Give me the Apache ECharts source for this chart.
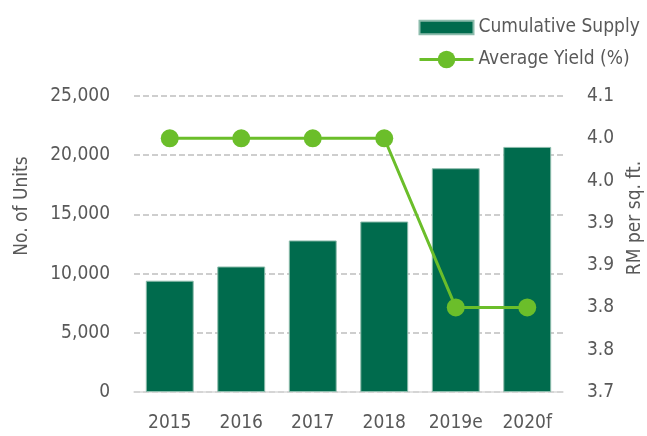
<!DOCTYPE html>
<html>
<head>
<meta charset="utf-8">
<script src="https://cdn.jsdelivr.net/npm/echarts@6/dist/echarts.min.js"></script>
<style>
  html, body { margin: 0; padding: 0; background: #fff; }
  #chart { width: 647px; height: 436px; }
</style>
</head>
<body>
<div id="chart"></div>
<script>
var years = ['2015', '2016', '2017', '2018', '2019e', '2020f'];
var supply = [9400, 10600, 12800, 14400, 18900, 20700];
var yieldPct = [4.0, 4.0, 4.0, 4.0, 3.8, 3.8];

var FONT = '"DejaVu Sans Condensed", "DejaVu Sans", sans-serif';
var GREY = '#595959';
var FS = 19;

var chart = echarts.init(document.getElementById('chart'));
var option = {
  textStyle: { fontFamily: FONT },
  grid: { left: 134, right: 84, top: 96, bottom: 44, outerBoundsMode: 'none', containLabel: false },
  legend: {
    orient: 'vertical',
    left: 413,
    top: 13,
    itemWidth: 54,
    itemHeight: 22,
    itemGap: 13,
    textStyle: { color: GREY, fontSize: FS, fontFamily: FONT },
    data: [
      { name: 'Cumulative Supply', icon: 'path://M0,0 H52 V13 H0 Z' },
      { name: 'Average Yield (%)', lineStyle: { width: 3 } }
    ]
  },
  xAxis: {
    type: 'category',
    data: years,
    axisTick: { show: false },
    axisLine: { lineStyle: { color: '#d9d9d9', width: 1.5 } },
    axisLabel: { color: GREY, fontSize: FS, margin: 22, interval: 0 }
  },
  yAxis: [
    {
      type: 'value',
      min: 0,
      max: 25000,
      interval: 5000,
      name: 'No. of Units',
      nameLocation: 'middle',
      nameRotate: 90,
      nameGap: 102,
      nameTextStyle: { color: GREY, fontSize: FS, padding: [0, 0, 0, 76] },
      axisLine: { show: false },
      axisTick: { show: false },
      axisLabel: {
        color: GREY, fontSize: FS, margin: 24,
        formatter: function (v) { return v.toLocaleString('en-US'); }
      },
      splitLine: { lineStyle: { color: '#bfbfbf', width: 1.5, type: [6, 3] } }
    },
    {
      type: 'value',
      min: 3.7,
      max: 4.05,
      interval: 0.05,
      name: 'RM per sq. ft.',
      nameLocation: 'middle',
      nameRotate: 90,
      nameGap: 62,
      nameTextStyle: { color: GREY, fontSize: FS, padding: [0, 0, 0, 52] },
      axisLine: { show: false },
      axisTick: { show: false },
      splitLine: { show: false },
      axisLabel: {
        color: GREY, fontSize: FS, margin: 24,
        formatter: function (v) { return (Math.round(v * 10 + 1e-6) / 10).toFixed(1); }
      }
    }
  ],
  series: [
    {
      name: 'Cumulative Supply',
      type: 'bar',
      data: supply,
      barCategoryGap: '33%',
      itemStyle: { color: '#006b4d', borderColor: '#8cbcac', borderWidth: 1 }
    },
    {
      name: 'Average Yield (%)',
      type: 'line',
      yAxisIndex: 1,
      data: yieldPct,
      symbol: 'circle',
      symbolSize: 18,
      itemStyle: { color: '#6bbe2a' },
      lineStyle: { color: '#6bbe2a', width: 3 }
    }
  ]
};
chart.setOption(option);
</script>
</body>
</html>
